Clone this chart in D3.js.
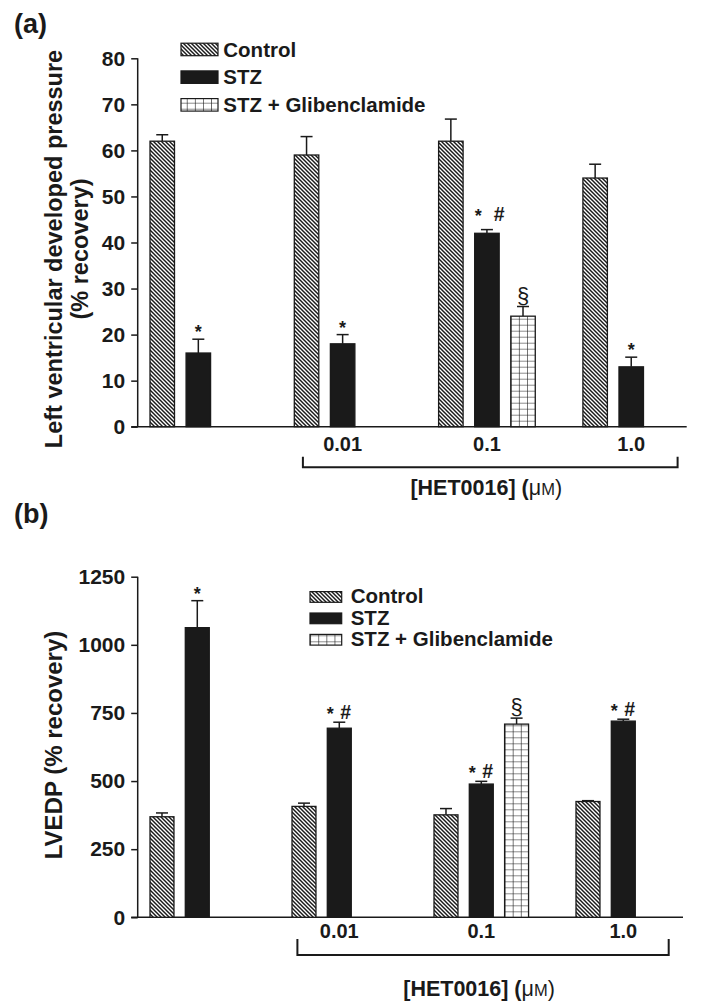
<!DOCTYPE html>
<html>
<head>
<meta charset="utf-8">
<script src="https://cdn.jsdelivr.net/npm/d3@7"></script>
<style>
  html, body { margin: 0; padding: 0; background: #fff; }
  svg { display: block; }
  text { font-family: "Liberation Sans", Arial, Helvetica, sans-serif; fill: #1a1a1a; }
</style>
</head>
<body>
<svg id="chart" width="702" height="1005"></svg>
<script>
// ---------------- DATA ----------------
const groups = ["", "0.01", "0.1", "1.0"];
const seriesNames = ["Control", "STZ", "STZ + Glibenclamide"];
const seriesKeys = ["ctrl", "stz", "glib"];

// Panel (a): Left ventricular developed pressure (% recovery)
const lvdpControl    = [62, 59, 62, 54];
const lvdpControlErr = [1.4, 4, 4.8, 3];
const lvdpSTZ        = [16, 18, 42, 13];
const lvdpSTZErr     = [3, 2, 0.8, 2.1];
const lvdpGlib       = [null, null, 24, null];
const lvdpGlibErr    = [null, null, 2.1, null];
const lvdpSTZMarks   = ["*", "*", "* #", "*"];
const lvdpGlibMarks  = ["", "", "§", ""];
const ticksA = [0, 10, 20, 30, 40, 50, 60, 70, 80];

// Panel (b): LVEDP (% recovery)
const lvedpControl    = [369, 407, 376, 425];
const lvedpControlErr = [14, 12, 23, 3];
const lvedpSTZ        = [1063, 694, 489, 720];
const lvedpSTZErr     = [99, 22, 10, 7];
const lvedpGlib       = [null, null, 709, null];
const lvedpGlibErr    = [null, null, 22, null];
const lvedpSTZMarks   = ["*", "* #", "* #", "* #"];
const lvedpGlibMarks  = ["", "", "§", ""];
const ticksB = [0, 250, 500, 750, 1000, 1250];

const xTitleMain = "[HET0016] (";
const xTitleMu = "μ";
const xTitleSmall = "M";
const xTitleEnd = ")";

// ---------------- DRAW ----------------
const svg = d3.select("#chart");
const defs = svg.append("defs");
const INK = "#1a1a1a";

// diagonal hatch "\\\\"
const hatch = defs.append("pattern").attr("id", "hatch")
  .attr("patternUnits", "userSpaceOnUse").attr("width", 4).attr("height", 4);
hatch.append("rect").attr("width", 4).attr("height", 4).attr("fill", "#fff");
hatch.append("path").attr("d", "M-1,-1 L5,5 M-1,3 L1,5 M3,-1 L5,1")
  .attr("stroke", INK).attr("stroke-width", 1.45);

// grid pattern
function gridPattern(id, x0, y0, w, h) {
  const p = defs.append("pattern").attr("id", id)
    .attr("patternUnits", "userSpaceOnUse").attr("x", x0).attr("y", y0)
    .attr("width", w).attr("height", h);
  p.append("rect").attr("width", w).attr("height", h).attr("fill", "#fff");
  p.append("path").attr("d", `M0,0 H${w} M0,0 V${h}`).attr("stroke", INK).attr("stroke-width", 1.2);
}

function buildRows(ctrl, ctrlE, stz, stzE, gl, glE, stzM, glM) {
  return groups.map((g, i) => ({
    group: g,
    bars: [
      { key: "ctrl", v: ctrl[i], e: ctrlE[i], mark: "" },
      { key: "stz", v: stz[i], e: stzE[i], mark: stzM[i] },
      { key: "glib", v: gl[i], e: glE[i], mark: glM[i] }
    ].filter(b => b.v != null)
  }));
}

function panel(cfg) {
  const g = svg.append("g");
  const y = d3.scaleLinear().domain(cfg.domain).range([cfg.y0, cfg.y1]);
  const x0 = d3.scaleBand().domain(groups)
    .range([cfg.gStart, cfg.gStart + cfg.gStep * groups.length]).padding(0);
  const x1 = d3.scaleBand().domain(seriesKeys)
    .range([0, cfg.slot * (3 - 0.321)]).paddingInner(0.321).paddingOuter(0);

  const gridId = "grid_" + cfg.id;
  gridPattern(gridId, x0("0.1") + x1("glib"), cfg.y0, 8.1, 6);
  const fills = { ctrl: "url(#hatch)", stz: INK, glib: `url(#${gridId})` };

  // y axis
  const ya = g.append("g").attr("transform", `translate(${cfg.axisX},0)`)
    .call(d3.axisLeft(y).tickValues(cfg.ticks).tickSize(6.5).tickPadding(6).tickFormat(d3.format("d")));
  ya.select(".domain").attr("stroke", INK).attr("stroke-width", 1.5).attr("d", `M0,${cfg.y1}V${cfg.y0}`);
  ya.selectAll(".tick line").attr("stroke", INK).attr("stroke-width", 1.5);
  ya.selectAll(".tick text").attr("font-size", 21).attr("font-weight", "bold")
    .attr("font-family", '"Liberation Sans", Arial, sans-serif').attr("fill", INK);

  // x axis line
  g.append("line").attr("x1", cfg.axisX - 6.5).attr("x2", cfg.xEnd)
    .attr("y1", y(0)).attr("y2", y(0)).attr("stroke", INK).attr("stroke-width", 1.5);

  // bars
  cfg.rows.forEach(r => {
    const gx = x0(r.group);
    r.bars.forEach(b => {
      const bx = gx + x1(b.key), bw = x1.bandwidth(), cx = bx + bw / 2;
      g.append("line").attr("x1", cx).attr("x2", cx).attr("y1", y(b.v)).attr("y2", y(b.v + b.e))
        .attr("stroke", INK).attr("stroke-width", 1.5);
      g.append("line").attr("x1", cx - 6).attr("x2", cx + 6).attr("y1", y(b.v + b.e)).attr("y2", y(b.v + b.e))
        .attr("stroke", INK).attr("stroke-width", 1.5);
      g.append("rect").attr("x", bx).attr("y", y(b.v)).attr("width", bw).attr("height", y(0) - y(b.v))
        .attr("fill", fills[b.key]).attr("stroke", INK).attr("stroke-width", 1.3);
      const top = y(b.v + b.e);
      if (b.mark === "*") {
        g.append("text").attr("x", cx).attr("y", top - 1).attr("text-anchor", "middle")
          .attr("font-size", 18).attr("font-weight", "bold").text("*");
      } else if (b.mark === "* #") {
        g.append("text").attr("x", cx + cfg.starDx).attr("y", top - cfg.hashUp + 1).attr("text-anchor", "middle")
          .attr("font-size", 18).attr("font-weight", "bold").text("*");
        g.append("text").attr("x", cx + cfg.hashDx).attr("y", top - cfg.hashUp).attr("text-anchor", "middle")
          .attr("font-size", 19.5).attr("font-weight", "bold").text("#");
      } else if (b.mark === "§") {
        g.append("text").attr("x", cx).attr("y", top - 4).attr("text-anchor", "middle")
          .attr("font-size", 22).attr("font-family", '"Liberation Serif", serif').text("§");
      }
    });
  });

  // x tick labels
  groups.forEach(gr => {
    if (!gr) return;
    g.append("text").attr("x", x0(gr) + x1("stz") + x1.bandwidth() / 2).attr("y", cfg.xLabY)
      .attr("text-anchor", "middle").attr("font-size", 20).attr("font-weight", "bold").text(gr);
  });

  // bracket
  const bl = x0("0.01") + cfg.brL, br = x0("1.0") + cfg.brR;
  g.append("path").attr("d", `M${bl},${cfg.brTop}V${cfg.brY}H${br}V${cfg.brTop}`)
    .attr("fill", "none").attr("stroke", INK).attr("stroke-width", 2);
  const t = g.append("text").attr("x", (bl + br) / 2 - 4).attr("y", cfg.titleY).attr("text-anchor", "middle")
    .attr("font-size", 21.5).attr("font-weight", "bold");
  t.append("tspan").text(xTitleMain);
  t.append("tspan").attr("font-weight", "normal").text(xTitleMu);
  t.append("tspan").attr("font-weight", "normal").attr("font-size", 16.5).text(xTitleSmall);
  t.append("tspan").attr("font-weight", "normal").text(xTitleEnd);

  // y title
  const yt = g.append("text").attr("transform", `translate(${cfg.yTitleX},${cfg.yTitleY}) rotate(-90)`)
    .attr("text-anchor", "middle").attr("font-size", cfg.yTitleSize).attr("font-weight", "bold");
  cfg.yTitle.forEach((line, i) => {
    yt.append("tspan").attr("x", 0).attr("dy", i === 0 ? 0 : cfg.yTitleLH).text(line);
  });

  // panel label
  g.append("text").attr("x", 14).attr("y", cfg.panelY).attr("font-size", 27).attr("font-weight", "bold").text(cfg.panel);

  // legend
  seriesNames.forEach((name, i) => {
    const ly = cfg.leg.y + i * cfg.leg.dy;
    g.append("rect").attr("x", cfg.leg.x).attr("y", ly - cfg.leg.h - 1).attr("width", cfg.leg.w).attr("height", cfg.leg.h)
      .attr("fill", fills[seriesKeys[i]]).attr("stroke", INK).attr("stroke-width", 1.2);
    g.append("text").attr("x", cfg.leg.tx).attr("y", ly).attr("font-size", 20.5).attr("font-weight", "bold").text(name);
  });
}

panel({
  id: "a", panel: "(a)", panelY: 33,
  domain: [0, 80], y0: 426.7, y1: 58.3, ticks: ticksA, axisX: 137.7, xEnd: 686.7,
  gStart: 150, gStep: 144.3, slot: 36.08,
  rows: buildRows(lvdpControl, lvdpControlErr, lvdpSTZ, lvdpSTZErr, lvdpGlib, lvdpGlibErr, lvdpSTZMarks, lvdpGlibMarks),
  starDx: -8.7, hashDx: 12.3, hashUp: 9,
  xLabY: 451, brL: 8.6, brR: 94.7, brTop: 456.7, brY: 467.3, titleY: 495,
  yTitle: ["Left ventricular developed pressure", "(% recovery)"], yTitleX: 62, yTitleY: 249, yTitleSize: 23.5, yTitleLH: 26,
  leg: { x: 181, w: 37, h: 12.5, y: 56.7, dy: 27.7, tx: 223.3 }
});

panel({
  id: "b", panel: "(b)", panelY: 523,
  domain: [0, 1250], y0: 917.3, y1: 576.7, ticks: ticksB, axisX: 137.7, xEnd: 683,
  gStart: 150, gStep: 142, slot: 35.3,
  rows: buildRows(lvedpControl, lvedpControlErr, lvedpSTZ, lvedpSTZErr, lvedpGlib, lvedpGlibErr, lvedpSTZMarks, lvedpGlibMarks),
  starDx: -9, hashDx: 6.5, hashUp: 3,
  xLabY: 937.7, brL: 5.4, brR: 92.7, brTop: 939, brY: 955, titleY: 996,
  yTitle: ["LVEDP (% recovery)"], yTitleX: 62, yTitleY: 745, yTitleSize: 24, yTitleLH: 0,
  leg: { x: 310, w: 31.7, h: 10.7, y: 603.3, dy: 21.4, tx: 350.7 }
});
</script>
</body>
</html>
